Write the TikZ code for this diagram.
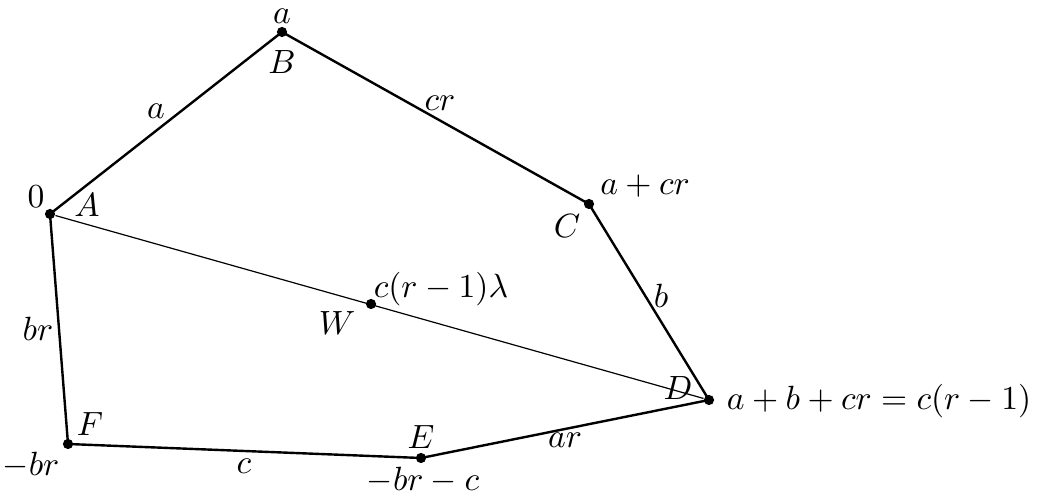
\documentclass[tikz,border=0pt]{standalone}
\begin{document}
\begin{tikzpicture}[x=0.3333pt,y=-0.3333pt,
  dot/.style={circle,fill,inner sep=0pt,minimum size=3.4pt},
  side/.style={line width=0.8pt},
  lbl/.style={inner sep=0pt,scale=1.12}]
\useasboundingbox (0,0) rectangle (1037,503);
\node[dot] (A) at (50,214) {};
\node[dot] (B) at (282,32) {};
\node[dot] (C) at (589,204) {};
\node[dot] (D) at (709,400) {};
\node[dot] (E) at (421,458) {};
\node[dot] (F) at (68,444) {};
\node[dot] (W) at (371,304) {};
\draw[side] (A.center) -- (B.center) -- (C.center) -- (D.center) -- (E.center) -- (F.center) -- cycle;
\draw[line width=0.4pt] (A) -- (D);
\node[lbl] (l0) at (36,197) {$0$};
\node[lbl] (lA) at (87,205) {$A$};
\node[lbl] (la) at (282,16) {$a$};
\node[lbl] (lB) at (282,62) {$B$};
\node[lbl] (eAB) at (156,111) {$a$};
\node[lbl] (eBC) at (440,103) {$cr$};
\node[lbl] (lC1) at (645,186) {$a+cr$};
\node[lbl] (lC) at (567,226) {$C$};
\node[lbl] (eCD) at (661,296) {$b$};
\node[lbl] (lW1) at (441,289) {$c(r-1)\lambda$};
\node[lbl] (lW) at (337,323) {$W$};
\node[lbl] (lD) at (678,388) {$D$};
\node[lbl] (lD1) at (879,401) {$a+b+cr=c(r-1)$};
\node[lbl] (lE) at (421,437) {$E$};
\node[lbl] (lE1) at (423,480) {$-br-c$};
\node[lbl] (eDE) at (565,440) {$ar$};
\node[lbl] (eEF) at (244,466) {$c$};
\node[lbl] (lF) at (90,424) {$F$};
\node[lbl] (lF1) at (31,465) {$-br$};
\node[lbl] (eFA) at (38,329) {$br$};
\end{tikzpicture}
\end{document}
